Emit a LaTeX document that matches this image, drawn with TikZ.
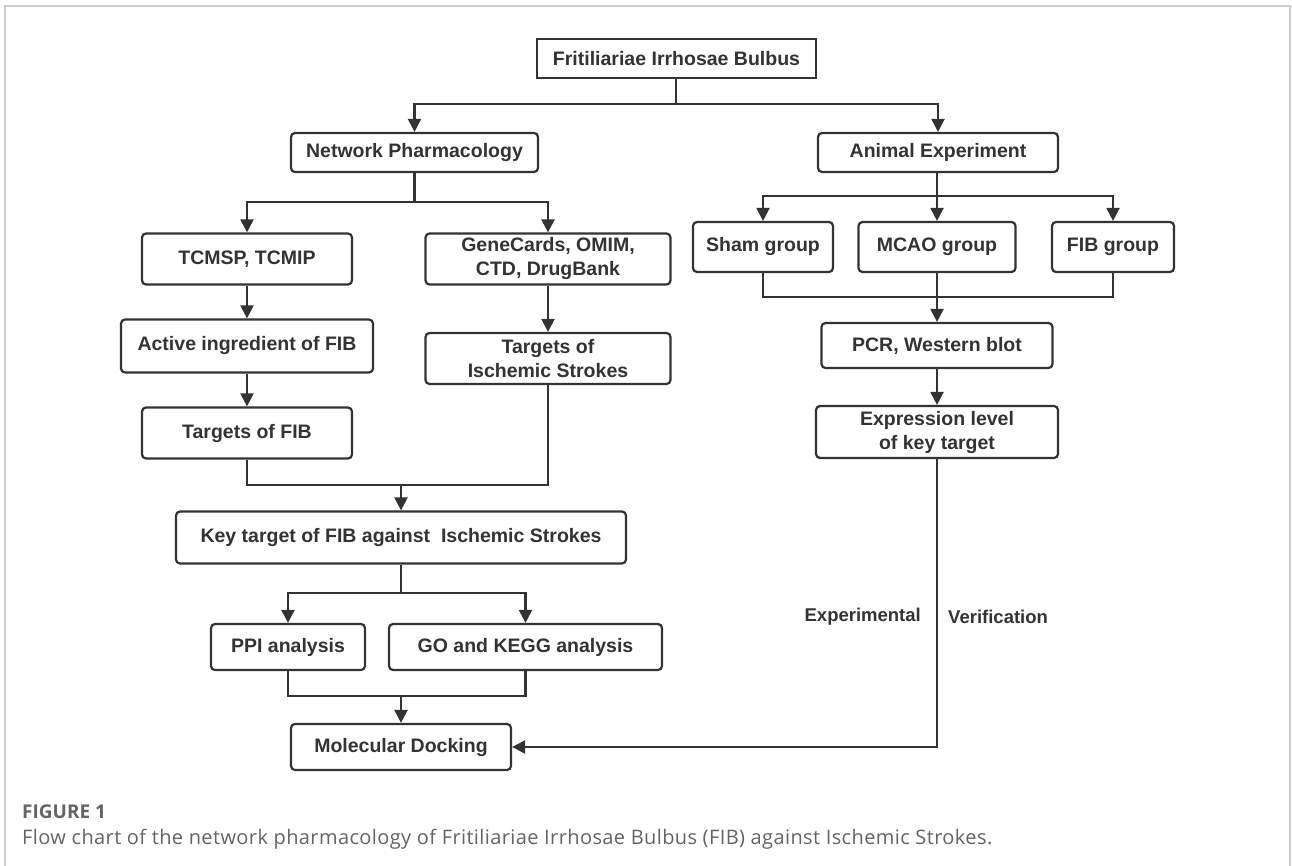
\documentclass[tikz,border=0pt]{standalone}
\usepackage{fontspec}
\setmainfont{Liberation Sans}
\newfontfamily\capfont{Open Sans}
\usetikzlibrary{arrows.meta}
\definecolor{dark}{RGB}{51,51,51}
\definecolor{framegray}{RGB}{205,205,205}
\definecolor{capgray}{RGB}{100,100,100}
\begin{document}
\begin{tikzpicture}[x=1pt,y=-1pt,
  box/.style={draw=dark, line width=2.2pt, rounded corners=4pt, minimum height=51pt,
    inner sep=0pt, align=center, text=dark,
    font=\fontsize{19.5}{24}\selectfont\bfseries},
  conn/.style={draw=dark, line width=2.2pt},
  arr/.style={conn, -{Triangle[length=13pt,width=13pt]}},
  lbl/.style={text=dark, inner sep=0pt, font=\fontsize{18.5}{22}\selectfont\bfseries},
  captext/.style={anchor=west, inner sep=0pt, text=capgray}]
\useasboundingbox (0,0) rectangle (1292,866);
\fill[white] (0,0) rectangle (1292,866);
\draw[framegray, line width=2pt] (5,870) -- (5,6) -- (1290,6) -- (1290,870);

% nodes
\node[box, sharp corners, minimum width=279pt, minimum height=39pt] (top) at (676.5,58.5) {Fritiliariae Irrhosae Bulbus};
\node[box, minimum width=247pt, minimum height=39pt] (np) at (414.5,152.5) {Network Pharmacology};
\node[box, minimum width=240pt, minimum height=39pt] (ae) at (938,152.5) {Animal Experiment};

\node[box, minimum width=210pt] (tcmsp) at (247,259) {TCMSP, TCMIP};
\node[box, minimum width=245pt] (gene) at (548,259) {GeneCards, OMIM,\\CTD, DrugBank};
\node[box, minimum width=252pt, minimum height=53pt] (act) at (247,346) {Active ingredient of FIB};
\node[box, minimum width=245pt] (tis) at (548,358.5) {Targets of\\Ischemic Strokes};
\node[box, minimum width=210pt] (tfib) at (247,433) {Targets of FIB};
\node[box, minimum width=450pt, minimum height=52pt] (key) at (401,537.5) {Key target of FIB against\ \ Ischemic Strokes};
\node[box, minimum width=154pt, minimum height=46pt] (ppi) at (288,647) {PPI analysis};
\node[box, minimum width=273pt, minimum height=46pt] (go) at (525.5,647) {GO and KEGG analysis};
\node[box, minimum width=220pt, minimum height=46pt] (md) at (401,747) {Molecular Docking};

\node[box, minimum width=140pt, minimum height=50pt] (sham) at (763,247) {Sham group};
\node[box, minimum width=157pt, minimum height=50pt] (mcao) at (937,247) {MCAO group};
\node[box, minimum width=122pt, minimum height=50pt] (fibg) at (1113,247) {FIB group};
\node[box, minimum width=231pt, minimum height=45pt] (pcr) at (937,345.5) {PCR, Western blot};
\node[box, minimum width=242pt, minimum height=52pt] (expr) at (937,432) {Expression level\\of key target};

\node[lbl, anchor=east] (exp) at (921,617) {Experimental};
\node[lbl, anchor=west] (ver) at (948,617) {Verification};

% caption
\node[captext, font=\capfont\fontsize{19}{23}\selectfont\bfseries] (fig) at (22,812) {FIGURE 1};
\node[captext, font=\capfont\fontsize{20}{24}\selectfont\addfontfeature{LetterSpace=2}] (caption) at (22,839) {Flow chart of the network pharmacology of Fritiliariae Irrhosae Bulbus (FIB) against Ischemic Strokes.};

% helper coordinates
\coordinate (jA) at (676,104);
\coordinate (jB) at (414.5,202);
\coordinate (j1) at (401,485);
\coordinate (j2) at (401,593);
\coordinate (j3) at (401,696);
\coordinate (j4) at (937,196);
\coordinate (j5) at (937,297);

% connectors
\draw[conn] (top.south -| jA) -- (jA);
\draw[arr] (jA) -| (np.north);
\draw[arr] (jA) -| (ae.north);

\draw[conn] (np.south) -- (jB);
\draw[arr] (jB) -| (tcmsp.north);
\draw[arr] (jB) -| (gene.north);
\draw[arr] (tcmsp.south) -- (act.north);
\draw[arr] (act.south) -- (tfib.north);
\draw[arr] (gene.south) -- (tis.north);
\draw[conn] (tfib.south) |- (j1);
\draw[conn] (tis.south) |- (j1);
\draw[arr] (j1) -- (key.north);

\draw[conn] (key.south) -- (j2);
\draw[arr] (j2) -| (ppi.north);
\draw[arr] (j2) -| (go.north);
\draw[conn] (ppi.south) |- (j3);
\draw[conn] (go.south) |- (j3);
\draw[arr] (j3) -- (md.north);

\draw[conn] (ae.south -| j4) -- (j4);
\draw[arr] (j4) -| (sham.north);
\draw[arr] (j4) -- (mcao.north);
\draw[arr] (j4) -| (fibg.north);
\draw[conn] (sham.south) |- (j5);
\draw[conn] (fibg.south) |- (j5);
\draw[conn] (mcao.south) -- (j5);
\draw[arr] (j5) -- (pcr.north);
\draw[arr] (pcr.south) -- (expr.north);
\draw[arr] (expr.south) |- (md.east);
\end{tikzpicture}
\end{document}
